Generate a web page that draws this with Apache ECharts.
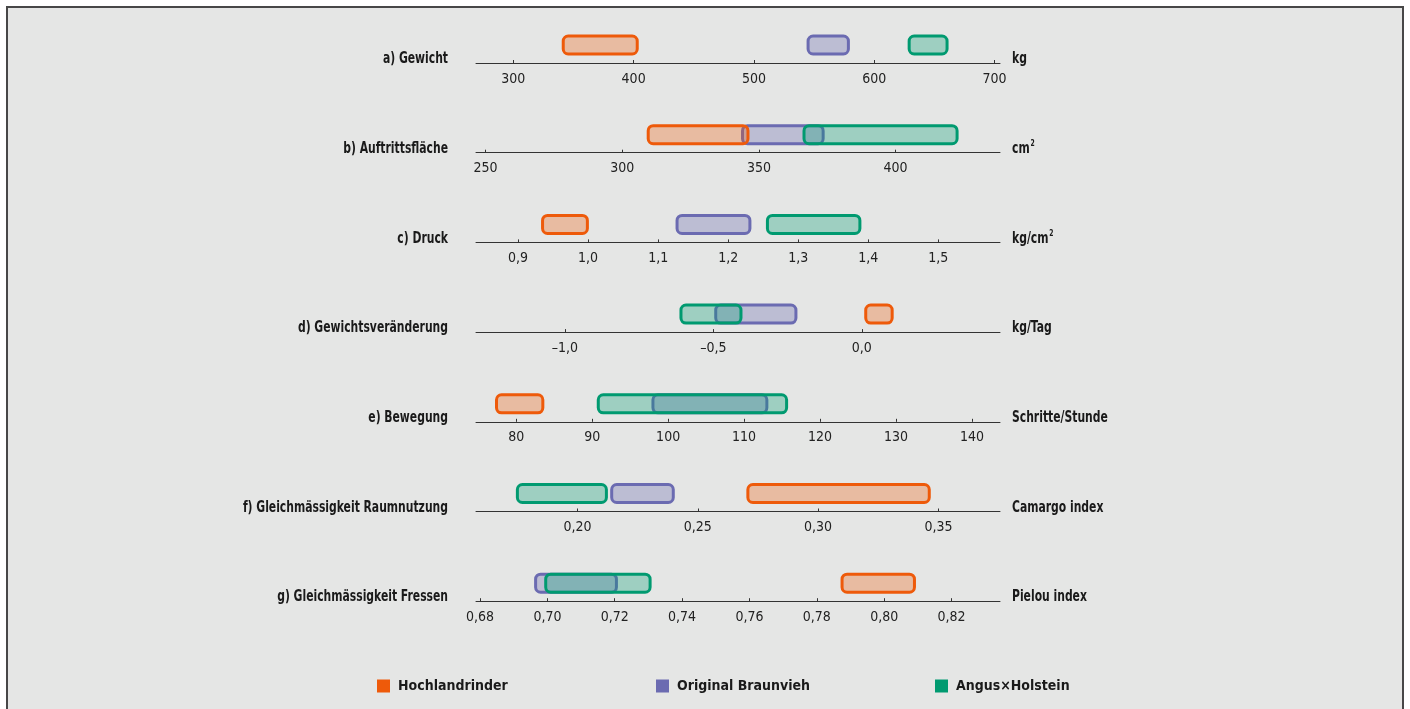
<!DOCTYPE html>
<html lang="de">
  <head>
    <meta charset="UTF-8" />
    <title>Rinder Vergleich</title>
    <style>
      html, body { margin: 0; padding: 0; background: #ffffff; }
      #frame {
        position: absolute; left: 6px; top: 6px; width: 1394px; height: 720px;
        background: #e5e6e5; border: 2px solid #474747; border-bottom: none;
      }
      #main { position: absolute; left: 0; top: 0; width: 1410px; height: 709px; }
    </style>
  </head>
  <body>
    <div id="frame"></div>
    <div id="main"></div>
  </body>
  <script src="https://cdn.jsdelivr.net/npm/echarts@6/dist/echarts.min.js"></script>
  <script>
    /* globals echarts */

    var groups = ["Hochlandrinder", "Original Braunvieh", "Angus×Holstein"];
    var strokeColors = ["#ee5a0a", "#6b6bb1", "#009a70"];
    var fillColors = ["rgba(238,90,10,0.31)", "rgba(107,107,177,0.33)", "rgba(0,154,112,0.31)"];

    var panelLabels = [
      "a) Gewicht",
      "b) Auftrittsfläche",
      "c) Druck",
      "d) Gewichtsveränderung",
      "e) Bewegung",
      "f) Gleichmässigkeit Raumnutzung",
      "g) Gleichmässigkeit Fressen"
    ];
    var unitLabels = ["kg", "cm{s|2}", "kg/cm{s|2}", "kg/Tag", "Schritte/Stunde", "Camargo index", "Pielou index"];

    var axisMin = [269, 246.5, 0.84, -1.299, 74.7, 0.1578, 0.6788];
    var axisMax = [704.5, 438.2, 1.588, 0.465, 143.7, 0.3756, 0.8344];
    var tickValues = [
      [300, 400, 500, 600, 700],
      [250, 300, 350, 400],
      [0.9, 1.0, 1.1, 1.2, 1.3, 1.4, 1.5],
      [-1.0, -0.5, 0.0],
      [80, 90, 100, 110, 120, 130, 140],
      [0.2, 0.25, 0.3, 0.35],
      [0.68, 0.7, 0.72, 0.74, 0.76, 0.78, 0.8, 0.82]
    ];
    var tickDecimals = [0, 0, 1, 1, 0, 2, 2];

    // [von, bis] je Panel
    var hochland = [[341.5, 403], [309.5, 346], [0.935, 0.999], [0.013, 0.102], [77.4, 83.5], [0.2708, 0.3462], [0.7875, 0.809]];
    var braunvieh = [[545, 578.5], [344, 373.5], [1.127, 1.231], [-0.492, -0.222], [98, 113], [0.2142, 0.2398], [0.6965, 0.7205]];
    var angus = [[629, 660.5], [366.5, 422.5], [1.256, 1.388], [-0.609, -0.407], [90.8, 115.6], [0.175, 0.212], [0.6995, 0.7305]];

    var seriesData = [hochland, braunvieh, angus];
    var drawOrder = [1, 0, 2];

    var font = "'Liberation Sans Narrow', 'DejaVu Sans Condensed', 'Roboto', sans-serif";
    var firstAxisY = 63;
    var panelStep = 89.7;

    function makeRender(idx) {
      return function(params, api) {
        var a = api.coord([api.value(0), 0.5]);
        var b = api.coord([api.value(1), 0.5]);
        var h = 18;
        return {
          type: "rect",
          shape: { x: a[0], y: a[1] - h / 2, width: b[0] - a[0], height: h, r: 5 },
          style: { fill: fillColors[idx], stroke: strokeColors[idx], lineWidth: 3 }
        };
      };
    }

    function formatTick(dec) {
      return function(v) {
        return v.toFixed(dec).replace(".", ",").replace("-", "\u2013");
      };
    }

    var grids = [], xAxes = [], yAxes = [], series = [], graphics = [];

    panelLabels.forEach(function(label, i) {
      var axisY = firstAxisY + panelStep * i;
      grids.push({ left: 476, width: 524, top: axisY - 36, height: 36 });
      xAxes.push({
        type: "value",
        gridIndex: i,
        min: axisMin[i],
        max: axisMax[i],
        splitLine: { show: false },
        axisLine: { lineStyle: { color: "#333", width: 1 } },
        axisTick: { inside: true, length: 3, customValues: tickValues[i], lineStyle: { color: "#333" } },
        axisLabel: {
          customValues: tickValues[i],
          formatter: formatTick(tickDecimals[i]),
          color: "#222",
          fontFamily: font,
          fontSize: 14,
          margin: 9
        }
      });
      yAxes.push({ type: "value", gridIndex: i, min: 0, max: 1, show: false });

      drawOrder.forEach(function(g) {
        series.push({
          type: "custom",
          name: groups[g],
          xAxisIndex: i,
          yAxisIndex: i,
          itemStyle: { color: strokeColors[g] },
          renderItem: makeRender(g),
          encode: { x: [0, 1] },
          data: [seriesData[g][i]]
        });
      });

      graphics.push({
        type: "text",
        x: 448,
        y: axisY - 4,
        scaleX: 0.75,
        style: {
          text: label, x: 0, y: 0, align: "right", verticalAlign: "middle",
          fontFamily: font, fontWeight: "bold", fontSize: 16, fill: "#1a1a1a"
        }
      });
      graphics.push({
        type: "text",
        x: 1012,
        y: axisY - 4,
        scaleX: 0.75,
        style: {
          text: unitLabels[i], x: 0, y: 0, align: "left", verticalAlign: "middle",
          fontFamily: font, fontWeight: "bold", fontSize: 16, fill: "#1a1a1a",
          rich: { s: { fontSize: 9, fontWeight: "bold", fontFamily: font, verticalAlign: "top", padding: [0, 0, 10, 1] } }
        }
      });
    });

    var legendLeft = [372, 651, 930];
    var legends = groups.map(function(g, k) {
      return {
        data: [g],
        left: legendLeft[k],
        top: 674,
        icon: "rect",
        itemWidth: 13,
        itemHeight: 13,
        itemGap: 10,
        selectedMode: false,
        itemStyle: { borderWidth: 0 },
        textStyle: { fontFamily: font, fontWeight: "bold", fontSize: 14, color: "#1a1a1a", padding: [0, 0, 0, 3] }
      };
    });

    var chart = echarts.init(document.getElementById("main"));
    chart.setOption({
      animation: false,
      backgroundColor: "transparent",
      grid: grids,
      xAxis: xAxes,
      yAxis: yAxes,
      legend: legends,
      series: series,
      graphic: graphics
    });
  </script>
</html>
